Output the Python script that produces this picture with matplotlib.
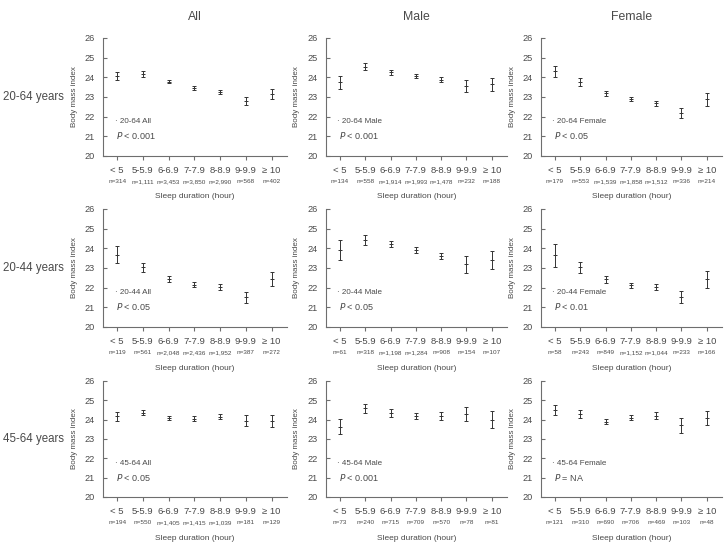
import matplotlib
matplotlib.use("Agg")
import matplotlib.pyplot as plt

# ---- data ----
categories = ["< 5", "5-5.9", "6-6.9", "7-7.9", "8-8.9", "9-9.9", "\u2265 10"]
col_titles = ["All", "Male", "Female"]
row_titles = ["20-64 years", "20-44 years", "45-64 years"]

mean_2064_all = [24.06, 24.17, 23.77, 23.46, 23.24, 22.78, 23.15]
err_2064_all = [0.20, 0.14, 0.08, 0.08, 0.10, 0.20, 0.27]
mean_2064_male = [23.75, 24.55, 24.26, 24.06, 23.88, 23.56, 23.64]
err_2064_male = [0.33, 0.20, 0.12, 0.10, 0.14, 0.32, 0.33]
mean_2064_female = [24.30, 23.77, 23.18, 22.89, 22.69, 22.17, 22.88]
err_2064_female = [0.30, 0.21, 0.12, 0.10, 0.13, 0.25, 0.33]

mean_2044_all = [23.67, 23.04, 22.45, 22.14, 22.02, 21.51, 22.43]
err_2044_all = [0.43, 0.23, 0.15, 0.13, 0.15, 0.28, 0.35]
mean_2044_male = [23.90, 24.43, 24.22, 23.93, 23.61, 23.19, 23.40]
err_2044_male = [0.50, 0.27, 0.15, 0.15, 0.17, 0.43, 0.47]
mean_2044_female = [23.64, 23.03, 22.42, 22.12, 22.02, 21.52, 22.43]
err_2044_female = [0.60, 0.30, 0.17, 0.13, 0.15, 0.30, 0.44]

mean_4564_all = [24.17, 24.37, 24.08, 24.05, 24.16, 23.94, 23.94]
err_4564_all = [0.23, 0.15, 0.11, 0.12, 0.15, 0.28, 0.32]
mean_4564_male = [23.64, 24.58, 24.33, 24.20, 24.18, 24.28, 24.00]
err_4564_male = [0.38, 0.22, 0.20, 0.17, 0.20, 0.35, 0.45]
mean_4564_female = [24.50, 24.31, 23.90, 24.10, 24.20, 23.70, 24.09]
err_4564_female = [0.27, 0.21, 0.14, 0.14, 0.19, 0.40, 0.38]

n_2064_all = ["314", "1,111", "3,453", "3,850", "2,990", "568", "402"]
n_2064_male = ["134", "558", "1,914", "1,993", "1,478", "232", "188"]
n_2064_female = ["179", "553", "1,539", "1,858", "1,512", "336", "214"]
n_2044_all = ["119", "561", "2,048", "2,436", "1,952", "387", "272"]
n_2044_male = ["61", "318", "1,198", "1,284", "908", "154", "107"]
n_2044_female = ["58", "243", "849", "1,152", "1,044", "233", "166"]
n_4564_all = ["194", "550", "1,405", "1,415", "1,039", "181", "129"]
n_4564_male = ["73", "240", "715", "709", "570", "78", "81"]
n_4564_female = ["121", "310", "690", "706", "469", "103", "48"]

group_labels = [
    ["20-64 All", "20-64 Male", "20-64 Female"],
    ["20-44 All", "20-44 Male", "20-44 Female"],
    ["45-64 All", "45-64 Male", "45-64 Female"],
]
p_texts = [
    ["< 0.001", "< 0.001", "< 0.05"],
    ["< 0.05", "< 0.05", "< 0.01"],
    ["< 0.05", "< 0.001", "= NA"],
]

means = [
    [mean_2064_all, mean_2064_male, mean_2064_female],
    [mean_2044_all, mean_2044_male, mean_2044_female],
    [mean_4564_all, mean_4564_male, mean_4564_female],
]
errs = [
    [err_2064_all, err_2064_male, err_2064_female],
    [err_2044_all, err_2044_male, err_2044_female],
    [err_4564_all, err_4564_male, err_4564_female],
]
ns = [
    [n_2064_all, n_2064_male, n_2064_female],
    [n_2044_all, n_2044_male, n_2044_female],
    [n_4564_all, n_4564_male, n_4564_female],
]

# narrow-ish face, the original uses a condensed sans
plt.rcParams["font.family"] = ["Liberation Sans", "DejaVu Sans"]

TXT = "#4a4a4a"
AX = "#6e6e6e"
BAR = "#333333"

W, H = 725, 547
fig = plt.figure(figsize=(W / 100, H / 100), dpi=100)

col_px = [(103, 287), (326, 507), (541, 722)]
row_px = [(38, 156), (209, 327), (381, 497)]
PT = 72 / 100  # points per pixel

x = list(range(len(categories)))

for r, (top, bot) in enumerate(row_px):
    for c, (left, right) in enumerate(col_px):
        ax = fig.add_axes([left / W, 1 - bot / H, (right - left) / W, (bot - top) / H])
        ax.errorbar(x, means[r][c], yerr=errs[r][c], fmt="_", color=BAR,
                    ecolor=BAR, elinewidth=0.7, capsize=1.4, capthick=0.7,
                    markersize=2.5, markeredgewidth=0.7)
        ax.set_xlim(-0.55, 6.6)
        ax.set_ylim(20, 26)
        ax.set_yticks(range(20, 27))
        ax.set_xticks(x)
        ax.set_xticklabels(categories)
        for s in ["top", "right"]:
            ax.spines[s].set_visible(False)
        for s in ["left", "bottom"]:
            ax.spines[s].set_color(AX)
            ax.spines[s].set_linewidth(0.8)
        ax.tick_params(axis="y", direction="in", length=3, width=0.8, color=AX,
                       labelsize=6.6, labelcolor=TXT, pad=6)
        ax.tick_params(axis="x", direction="out", length=3, width=0.8, color=AX,
                       labelsize=6.8, labelcolor=TXT, pad=4)

        for i, n in enumerate(ns[r][c]):
            ax.annotate(f"n={n}", xy=(i, 0), xycoords=("data", "axes fraction"),
                        xytext=(0, -26 * PT), textcoords="offset points",
                        ha="center", va="center", fontsize=4.6, color=TXT)
        ax.annotate("Sleep duration (hour)", xy=(0.5, 0), xycoords="axes fraction",
                    xytext=(0, -41 * PT), textcoords="offset points",
                    ha="center", va="center", fontsize=6, color=TXT)
        ax.annotate("Body mass index", xy=(0, 0.5), xycoords="axes fraction",
                    xytext=(-29 * PT, 0), textcoords="offset points",
                    ha="center", va="center", rotation=90, fontsize=5.8, color=TXT)

        ax.text(-0.1, 21.75, "\u00b7 " + group_labels[r][c], fontsize=5.8,
                color=TXT, ha="left", va="center")
        ax.text(-0.05, 21.02, "$\\it{P}$ " + p_texts[r][c], fontsize=6.5,
                color=TXT, ha="left", va="center")

        if r == 0:
            ax.annotate(col_titles[c], xy=(0.5, 1), xycoords="axes fraction",
                        xytext=(0, 21 * PT), textcoords="offset points",
                        ha="center", va="center", fontsize=8.8, color=TXT)

    fig.text(3 / W, 1 - (top + bot) / 2 / H, row_titles[r], fontsize=8.3,
             color=TXT, ha="left", va="center")

fig.savefig("out.png", dpi=100)
